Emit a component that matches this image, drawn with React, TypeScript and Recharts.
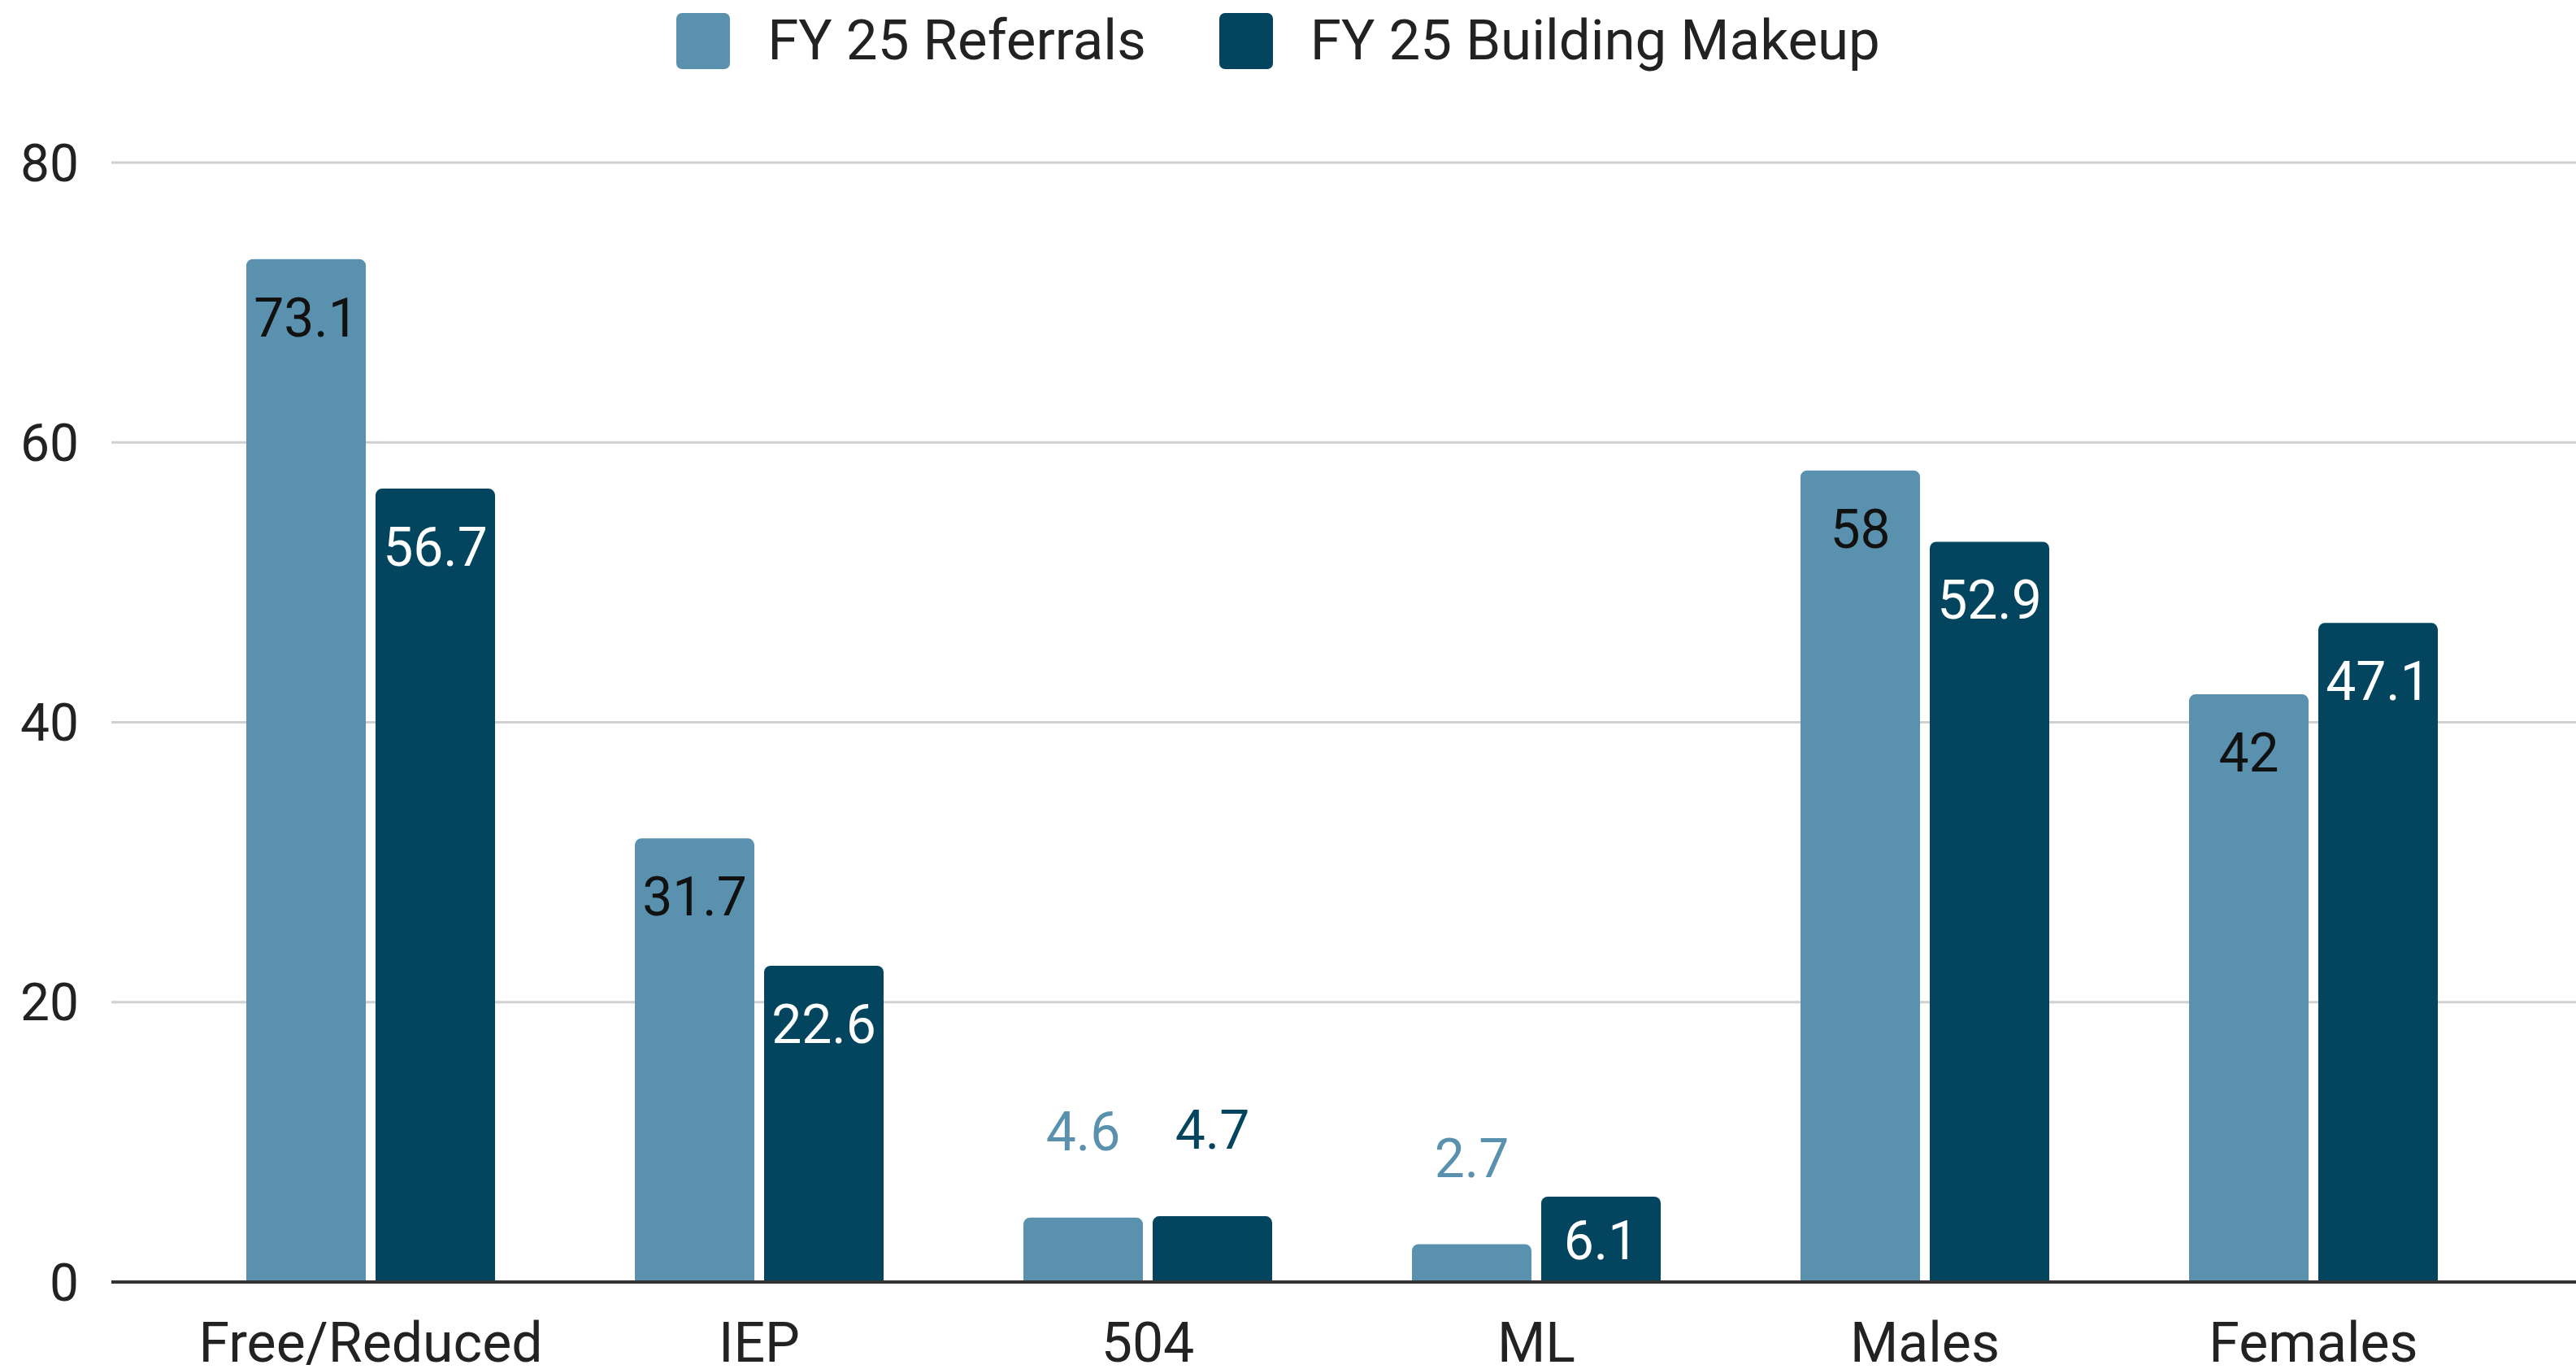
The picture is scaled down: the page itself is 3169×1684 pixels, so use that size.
import React from "react";
import { BarChart, Bar, XAxis, YAxis, CartesianGrid, Legend, LabelList } from "recharts";

const categories = ["Free/Reduced", "IEP", "504", "ML", "Males", "Females"];
const referrals = [73.1, 31.7, 4.6, 2.7, 58, 42];
const buildingMakeup = [56.7, 22.6, 4.7, 6.1, 52.9, 47.1];
const yTicks = [0, 20, 40, 60, 80];
const seriesNames = ["FY 25 Referrals", "FY 25 Building Makeup"];
const seriesColors = ["#5A91AF", "#03455F"];

const data = categories.map((c, i) => ({
  name: c,
  referrals: referrals[i],
  building: buildingMakeup[i],
}));

const FONT = "Roboto, 'Noto Sans', sans-serif";
const W = 3169;
const H = 1684;

const makeLabel = (insideColor: string, outsideColor: string) => (props: any) => {
  const { x, y, width, height, value } = props;
  const cx = Number(x) + Number(width) / 2;
  const h = Number(height);
  const top = Number(y);
  let ty: number;
  let color: string;
  if (h >= 150) {
    ty = top + 95;
    color = insideColor;
  } else if (h >= 100) {
    ty = top + h / 2 + 24;
    color = insideColor;
  } else {
    ty = top - 83;
    color = outsideColor;
  }
  return (
    <text x={cx} y={ty} textAnchor="middle" fill={color} fontSize={66} fontFamily={FONT}>
      {value}
    </text>
  );
};

const renderLegend = () => (
  <div
    style={{
      height: 100,
      width: W,
      display: "flex",
      justifyContent: "center",
      alignItems: "center",
      fontFamily: FONT,
      fontSize: 69,
      color: "#222",
      marginLeft: -12,
    }}
  >
    {seriesNames.map((n, i) => (
      <div key={n} style={{ display: "flex", alignItems: "center", marginLeft: i === 0 ? 0 : 90 }}>
        <div
          style={{
            width: 66,
            height: 69,
            borderRadius: 7,
            background: seriesColors[i],
            marginRight: 46,
          }}
        />
        <span style={{ lineHeight: "70px" }}>{n}</span>
      </div>
    ))}
  </div>
);

export default function App() {
  return (
    <div style={{ position: "fixed", left: 0, top: 0, width: W, height: H, background: "#fff" }}>
      <BarChart
        width={W}
        height={H}
        data={data}
        margin={{ top: 100, right: 0, bottom: 0, left: 0 }}
        barSize={147}
        barGap={12}
      >
        <CartesianGrid horizontal vertical={false} stroke="#d0d0d0" strokeWidth={3} />
        <Legend
          verticalAlign="top"
          content={renderLegend}
          wrapperStyle={{ top: 0, left: 0, width: W, height: 100 }}
        />
        <XAxis
          dataKey="name"
          padding={{ left: 80, right: 84 }}
          height={107}
          tickLine={false}
          tickSize={0}
          tickMargin={50}
          axisLine={{ stroke: "#333", strokeWidth: 4 }}
          tick={{ fontSize: 68, fontFamily: FONT, fill: "#222" }}
          interval={0}
        />
        <YAxis
          width={137}
          domain={[0, 80]}
          ticks={yTicks}
          axisLine={false}
          tickLine={false}
          tickSize={0}
          tickMargin={40}
          tick={{ fontSize: 64, fontFamily: FONT, fill: "#222" }}
        />
        <Bar dataKey="referrals" name={seriesNames[0]} fill={seriesColors[0]} radius={[8, 8, 0, 0]} isAnimationActive={false}>
          <LabelList dataKey="referrals" content={makeLabel("#111", seriesColors[0])} />
        </Bar>
        <Bar dataKey="building" name={seriesNames[1]} fill={seriesColors[1]} radius={[8, 8, 0, 0]} isAnimationActive={false}>
          <LabelList dataKey="building" content={makeLabel("#fff", seriesColors[1])} />
        </Bar>
      </BarChart>
    </div>
  );
}
